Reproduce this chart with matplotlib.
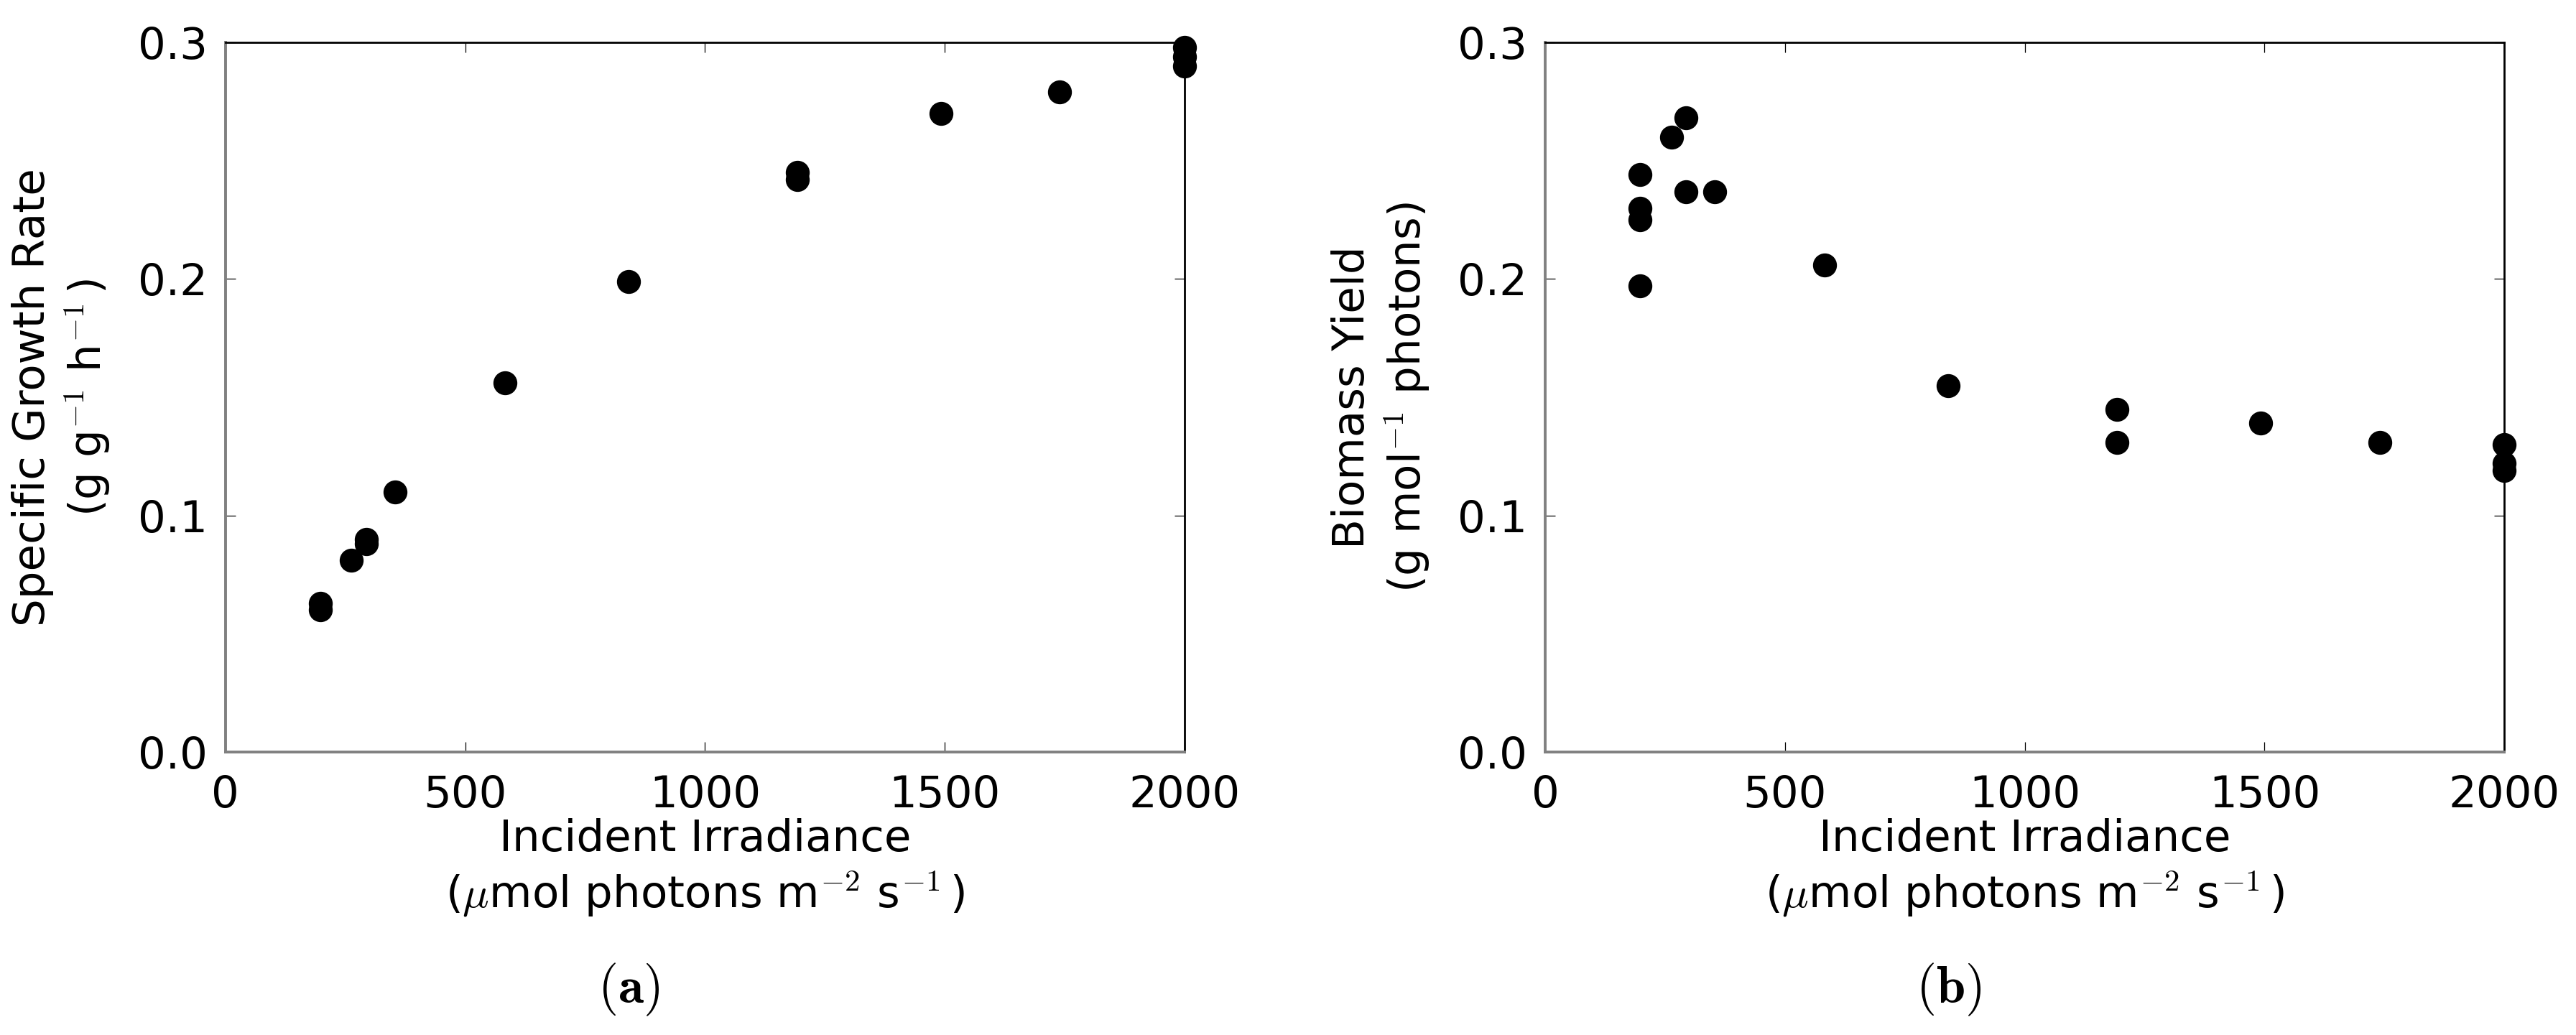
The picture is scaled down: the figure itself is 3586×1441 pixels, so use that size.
import matplotlib
matplotlib.use("Agg")
import matplotlib.pyplot as plt

# (a) specific growth rate vs incident irradiance
irr_growth = [198, 198, 263, 294, 294, 353, 583, 840, 1192, 1192, 1492, 1740, 2000, 2000, 2000]
growth_rate = [0.063, 0.060, 0.081, 0.088, 0.090, 0.110, 0.156, 0.199, 0.245, 0.242,
               0.270, 0.279, 0.298, 0.294, 0.290]

# (b) biomass yield vs incident irradiance
irr_yield = [198, 198, 198, 198, 263, 294, 294, 353, 583, 840, 1192, 1192, 1492, 1740,
             2000, 2000, 2000]
biomass_yield = [0.244, 0.230, 0.225, 0.197, 0.260, 0.268, 0.237, 0.237, 0.206, 0.155,
                 0.145, 0.131, 0.139, 0.131, 0.130, 0.122, 0.119]

x_ticks = [0, 500, 1000, 1500, 2000]
y_ticks = [0.0, 0.1, 0.2, 0.3]
x_label = "Incident Irradiance\n($\\mu$mol photons m$^{-2}$ s$^{-1}\\,$)"
y_labels = ["Specific Growth Rate\n(g g$^{-1}$ h$^{-1}\\,$)",
            "Biomass Yield\n(g mol$^{-1}$ photons)"]
captions = ["$(\\mathbf{a})$", "$(\\mathbf{b})$"]

plt.rcParams['mathtext.fontset'] = 'cm'
plt.rcParams['font.family'] = 'DejaVu Sans'

fig = plt.figure(figsize=(35.87, 14.41), dpi=100)
ax1 = fig.add_axes([0.0875, 0.2734, 0.3722, 0.6856])
ax2 = fig.add_axes([0.5997, 0.2734, 0.3722, 0.6856])

panels = [(ax1, irr_growth, growth_rate), (ax2, irr_yield, biomass_yield)]
for i, (ax, xs, ys) in enumerate(panels):
    ax.plot(xs, ys, 'o', color='black', markersize=23, clip_on=False, zorder=5)
    ax.set_xlim(0, 2000)
    ax.set_ylim(0, 0.3)
    ax.set_xticks(x_ticks)
    ax.set_yticks(y_ticks)
    ax.set_yticklabels([f"{v:.1f}" for v in y_ticks])
    ax.tick_params(direction='in', top=True, right=True, length=10, width=0.9,
                   labelsize=44)
    ax.tick_params(axis='x', pad=22)
    ax.tick_params(axis='y', pad=18)
    for side in ['left', 'bottom']:
        ax.spines[side].set_color('#808080')
        ax.spines[side].set_linewidth(2.8)
    for side in ['top', 'right']:
        ax.spines[side].set_color('black')
        ax.spines[side].set_linewidth(2.0)
    ax.set_xlabel(x_label, fontsize=44, labelpad=2)
    ax.set_ylabel(y_labels[i], fontsize=44, labelpad=26)

fig.text(0.2439, 0.044, captions[0], fontsize=52, ha='center', va='center')
fig.text(0.7561, 0.044, captions[1], fontsize=52, ha='center', va='center')

fig.savefig("out.png", dpi=100)
